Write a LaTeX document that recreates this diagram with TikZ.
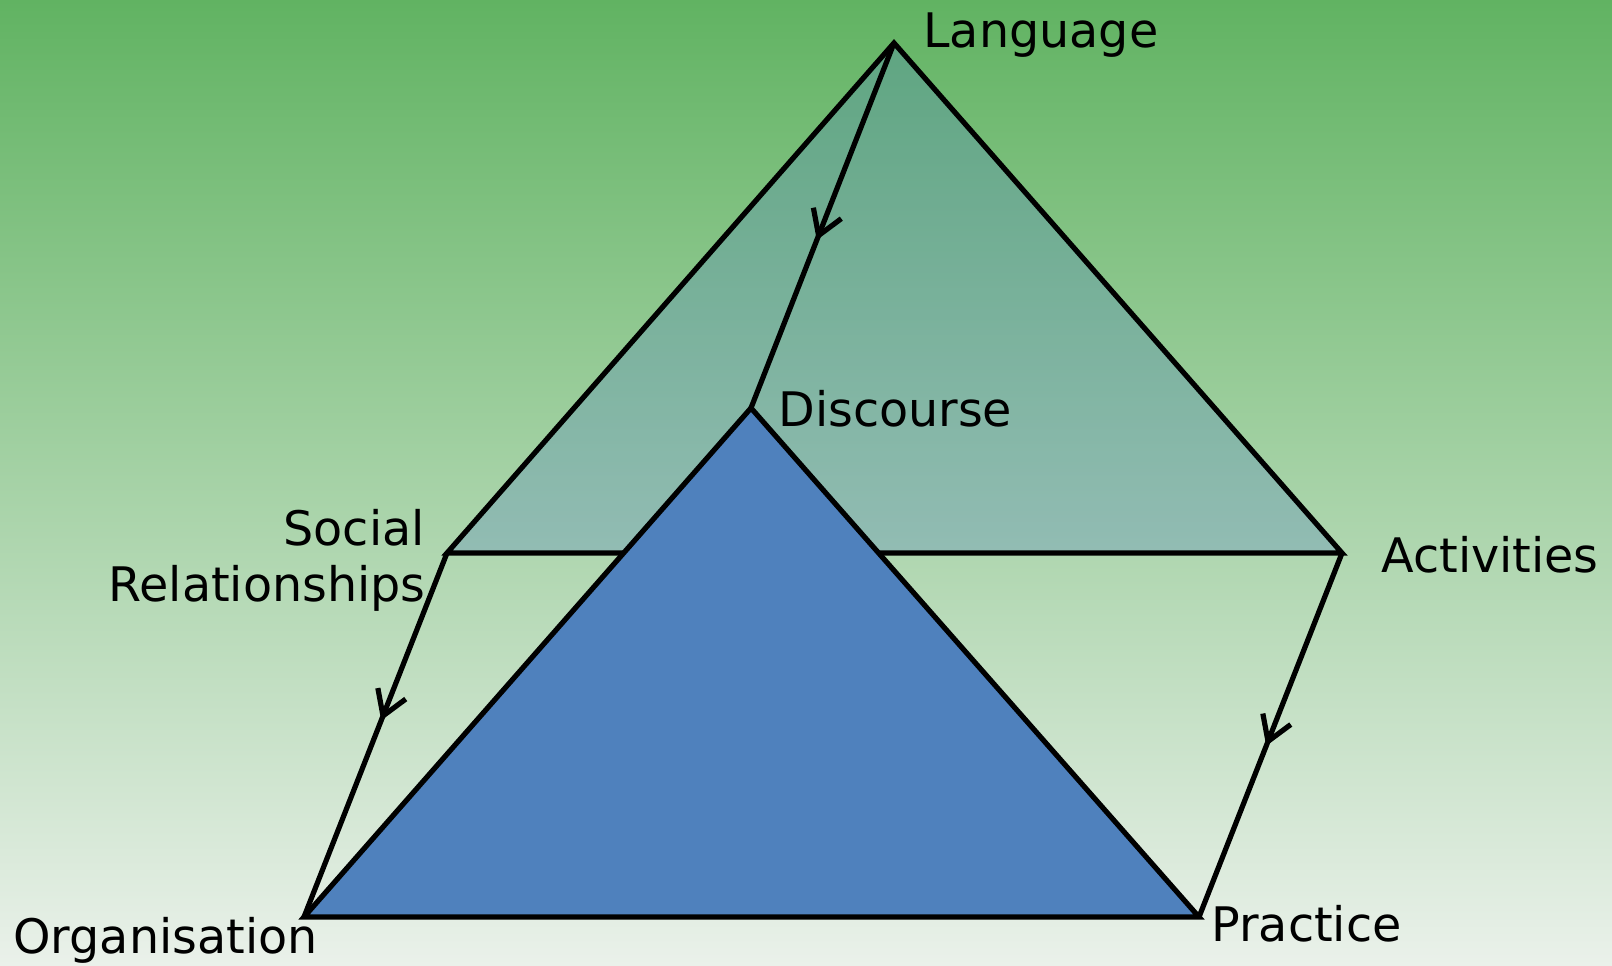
\documentclass[tikz,border=0pt]{standalone}
\usepackage{fontspec}
\setmainfont{DejaVu Sans}
\usetikzlibrary{arrows.meta,decorations.markings}
\definecolor{bgtop}{RGB}{97,179,98}
\definecolor{bgbot}{RGB}{234,241,234}
\definecolor{faceblue}{RGB}{79,129,189}
\tikzset{
  edge/.style={line width=2.6pt,line join=miter},
  midarrow/.style={postaction={decorate},decoration={markings,
    mark=at position #1 with {\arrow[line width=2.6pt]{Straight Barb[length=12pt,width=15pt]}}}},
  lbl/.style={inner sep=0pt,font=\fontsize{23.8pt}{28pt}\selectfont}
}
\begin{document}
\begin{tikzpicture}[x=0.5pt,y=-0.5pt]
\useasboundingbox (0,0) rectangle (1612,965);
\shade[top color=bgtop,bottom color=bgbot] (0,0) rectangle (1612,965);
% corners of the two faces
\coordinate (lang) at (894,43);
\coordinate (social) at (447,553);
\coordinate (act) at (1342,553);
\coordinate (disc) at (751,408);
\coordinate (org) at (304,917);
\coordinate (prac) at (1199,917);
% back face and the edges running down to the front face
\draw[edge,fill=faceblue,fill opacity=0.3] (lang) -- (social) -- (act) -- cycle;
\draw[edge,midarrow=0.46] (social) -- (org);
\draw[edge,midarrow=0.53] (act) -- (prac);
\draw[edge,midarrow=0.54] (lang) -- (disc);
% front face
\draw[edge,fill=faceblue] (disc) -- (org) -- (prac) -- cycle;
\node[lbl,anchor=base west] (langlbl) at (923,47) {Language};
\node[lbl,anchor=base west] (disclbl) at (778,426) {Discourse};
\node[lbl,anchor=base east] (sociallbl) at (425,545) {Social};
\node[lbl,anchor=base east] (rellbl) at (426,601) {Relationships};
\node[lbl,anchor=base west] (actlbl) at (1381,572) {Activities};
\node[lbl,anchor=base west] (orglbl) at (13,953) {Organisation};
\node[lbl,anchor=base west] (praclbl) at (1211,941) {Practice};
\end{tikzpicture}
\end{document}
